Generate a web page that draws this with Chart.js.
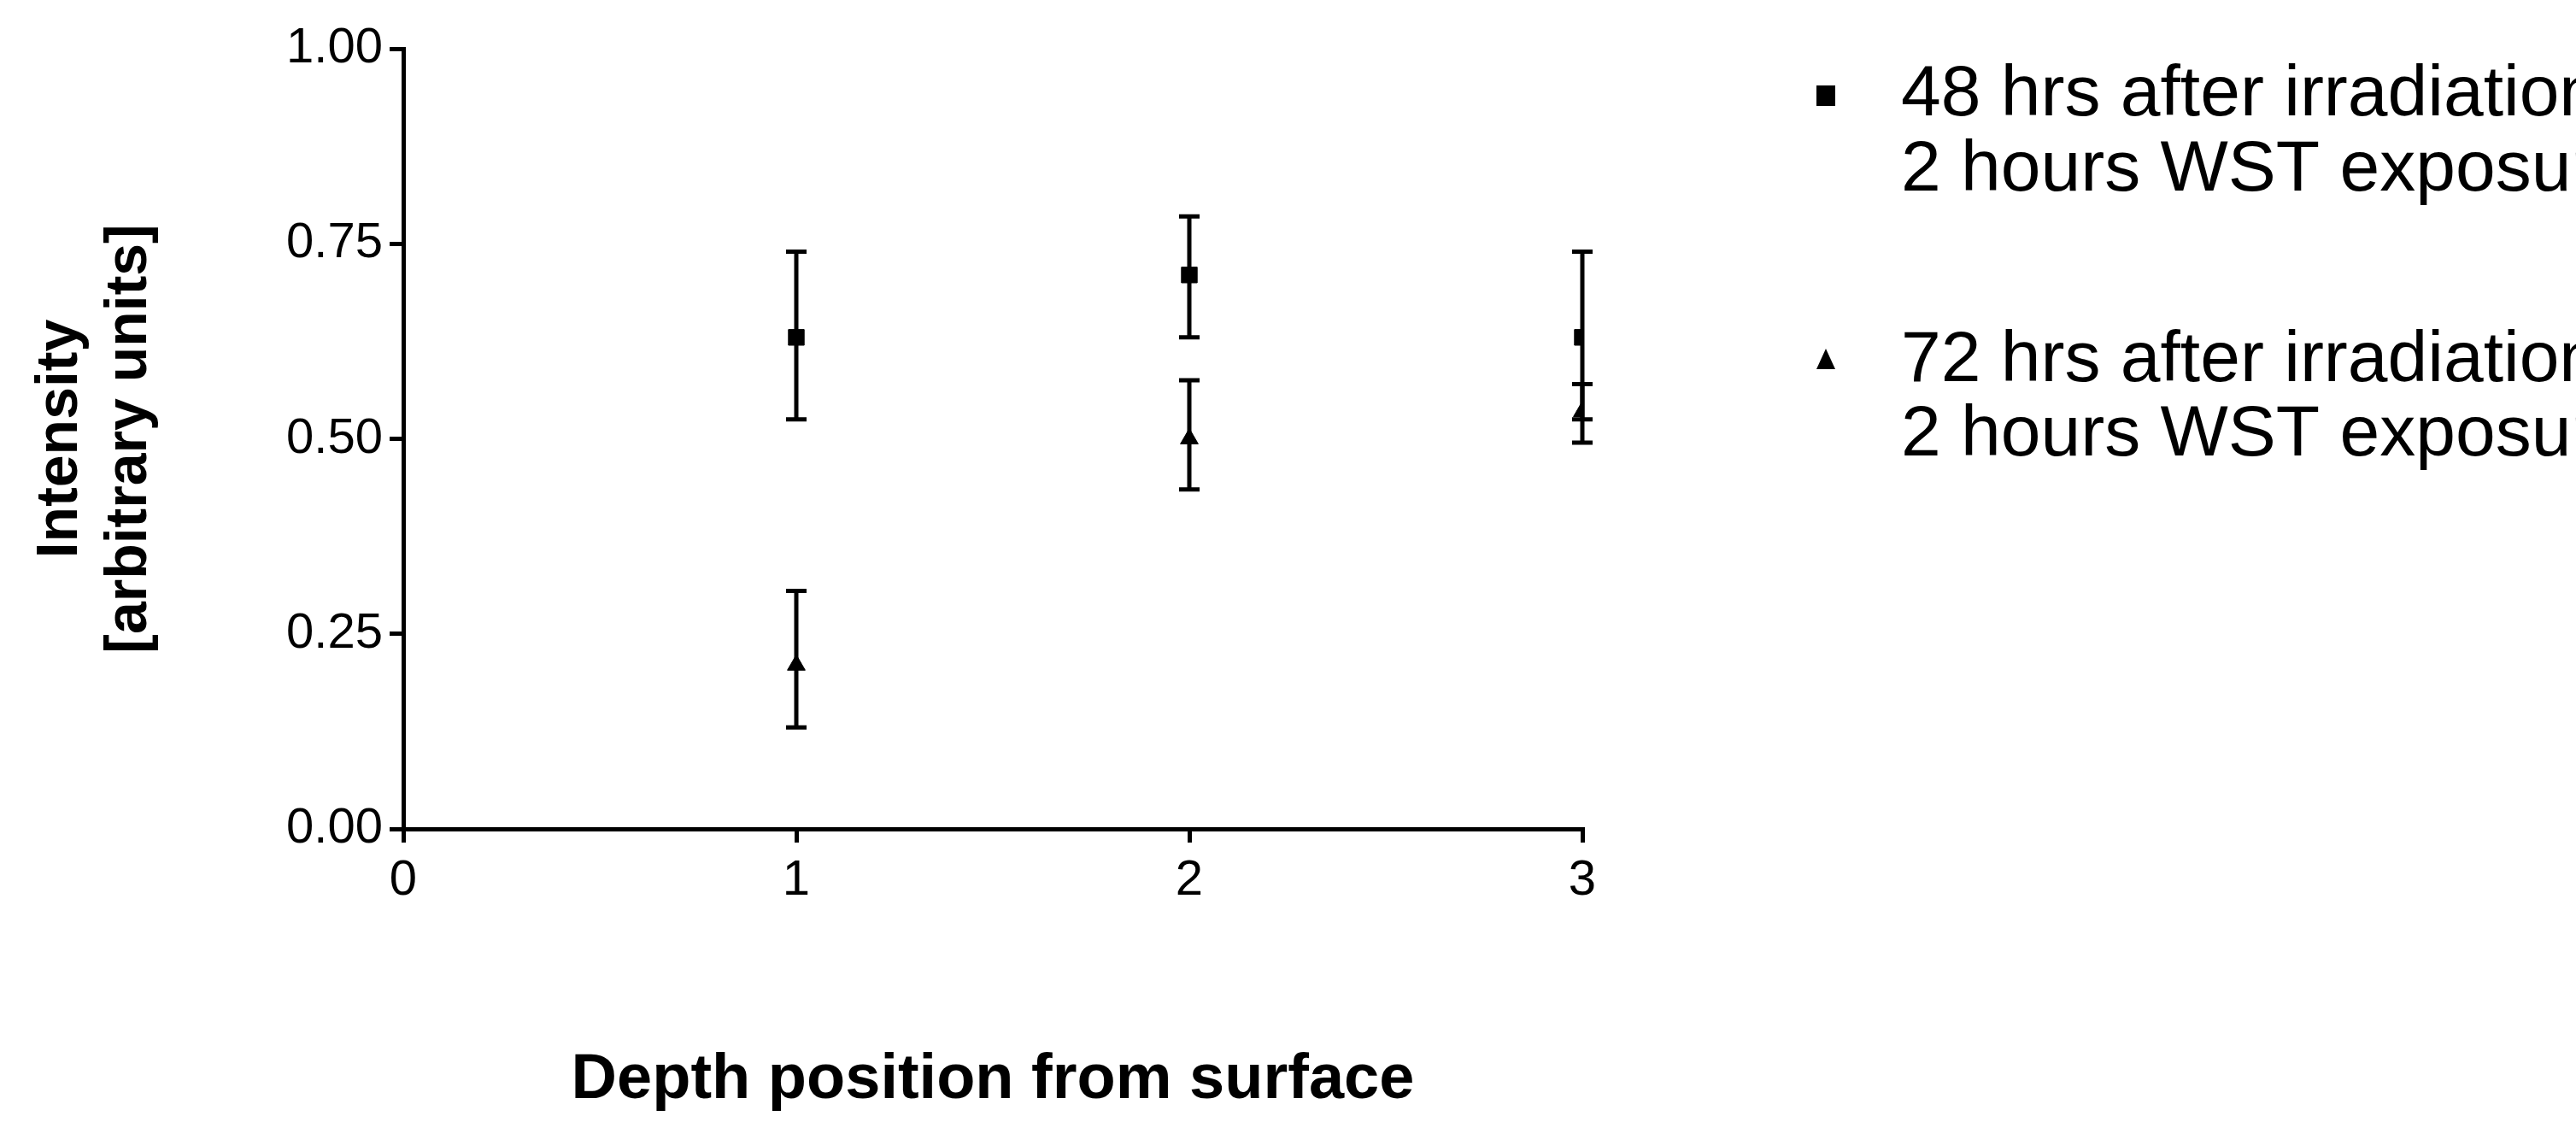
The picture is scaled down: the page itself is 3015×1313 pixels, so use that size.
<!DOCTYPE html>
<html>
<head>
<meta charset="utf-8">
<script src="https://cdn.jsdelivr.net/npm/chart.js@4.4.1/dist/chart.umd.min.js"></script>
<style>
body{margin:0;background:#fff;}
#wrap{width:3015px;height:1313px;}
</style>
</head>
<body>
<div id="wrap"><canvas id="c"></canvas></div>
<script>
// depth positions
var depth=[1,2,3];
// 48 hrs series
var mean48=[0.63,0.71,0.63];
var low48=[0.525,0.63,0.525];
var high48=[0.74,0.785,0.74];
// 72 hrs series
var mean72=[0.21,0.50,0.535];
var low72=[0.13,0.435,0.495];
var high72=[0.305,0.575,0.57];
var legendLines=[['48 hrs after irradiation,','2 hours WST exposure'],['72 hrs after irradiation,','2 hours WST exposure']];
var narrow='"Liberation Sans Narrow", "Arial Narrow", "Liberation Sans", Arial, sans-serif';

function pts(m){
    var out=[];
    for(var i=0;i<depth.length;i++){ out.push({x:depth[i],y:m[i]}); }
    return out;
}

var errBars={
    id:'errBars',
    afterDatasetsDraw:function(chart){
        var ctx=chart.ctx, xs=chart.scales.x, ys=chart.scales.y;
        var sets=[[low48,high48],[low72,high72]];
        ctx.save();
        ctx.strokeStyle='#000';
        ctx.lineWidth=5;
        for(var s=0;s<sets.length;s++){
            for(var i=0;i<depth.length;i++){
                var px=xs.getPixelForValue(depth[i]);
                var y1=ys.getPixelForValue(sets[s][0][i]);
                var y2=ys.getPixelForValue(sets[s][1][i]);
                ctx.beginPath();
                ctx.moveTo(px,y1);ctx.lineTo(px,y2);
                ctx.moveTo(px-12,y1);ctx.lineTo(px+12,y1);
                ctx.moveTo(px-12,y2);ctx.lineTo(px+12,y2);
                ctx.stroke();
            }
        }
        // legend
        ctx.fillStyle='#000';
        ctx.fillRect(2126,100,22,24);
        ctx.beginPath();
        ctx.moveTo(2137,408);ctx.lineTo(2148,432);ctx.lineTo(2126,432);ctx.closePath();ctx.fill();
        ctx.font='84px '+narrow;
        ctx.textBaseline='middle';
        var ly=[[112,200],[423,510]];
        for(var k=0;k<legendLines.length;k++){
            ctx.fillText(legendLines[k][0],2225,ly[k][0]);
            ctx.fillText(legendLines[k][1],2225,ly[k][1]);
        }
        ctx.restore();
    }
};

var ctx=document.getElementById('c').getContext('2d');
var chart=new Chart(ctx,{
    type:'scatter',
    data:{
        datasets:[
            {label:'48 hrs',data:pts(mean48),pointStyle:'rect',pointRadius:13,backgroundColor:'#000',borderColor:'#000'},
            {label:'72 hrs',data:pts(mean72),pointStyle:'triangle',pointRadius:12,backgroundColor:'#000',borderColor:'#000'}
        ]
    },
    options:{
        responsive:true,
        maintainAspectRatio:false,
        animation:false,
        layout:{padding:{top:57,right:1163,left:0,bottom:0}},
        plugins:{legend:{display:false},tooltip:{enabled:false}},
        scales:{
            x:{
                type:'linear',min:0,max:3,
                ticks:{stepSize:1,color:'#000',font:{size:58,family:narrow},padding:10},
                grid:{drawOnChartArea:false,color:'#000',tickLength:16,lineWidth:5},
                border:{color:'#000',width:5},
                title:{display:true,text:'Depth position from surface',color:'#000',font:{size:74,weight:'bold',family:'"Liberation Sans", Arial'},padding:{top:80}},
                afterFit:function(a){a.height=343;}
            },
            y:{
                min:0,max:1,
                ticks:{stepSize:0.25,color:'#000',font:{size:58,family:narrow},padding:8,callback:function(v){return v.toFixed(2);}},
                grid:{drawOnChartArea:false,color:'#000',tickLength:16,lineWidth:5},
                border:{color:'#000',width:5},
                title:{display:true,text:['Intensity','[arbitrary units]'],color:'#000',font:{size:68,weight:'bold',family:'"Liberation Sans", Arial'},padding:{top:30,bottom:40}},
                afterFit:function(a){a.width=472;}
            }
        }
    },
    plugins:[errBars]
});
</script>
</body>
</html>
